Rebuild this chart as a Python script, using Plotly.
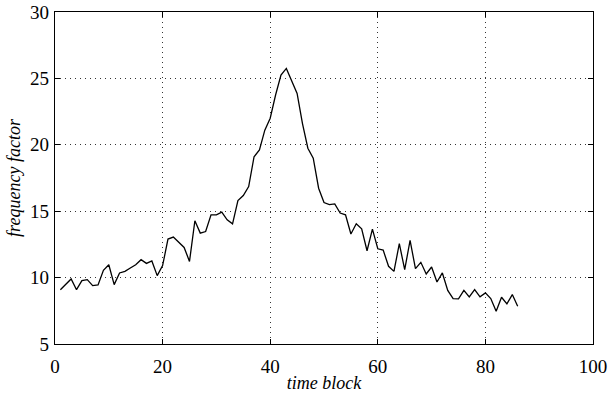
import plotly.graph_objects as go

time_block = list(range(1, 87))
freq_factor = [
    9.09, 9.5, 9.9, 9.09, 9.77, 9.85, 9.4, 9.45, 10.55, 10.97,
    9.47, 10.35, 10.47, 10.72, 10.97, 11.35, 11.07, 11.25, 10.15, 10.9,
    12.9, 13.05, 12.65, 12.27, 11.22, 14.28, 13.35, 13.47, 14.73, 14.73,
    14.93, 14.35, 14.05, 15.8, 16.18, 16.86, 19.1, 19.61, 21.1, 22.0,
    23.75, 25.25, 25.75, 24.87, 23.87, 21.6, 19.74, 18.99, 16.73, 15.65,
    15.5, 15.55, 14.86, 14.73, 13.28, 14.05, 13.68, 12.02, 13.65, 12.17,
    12.07, 10.85, 10.47, 12.55, 10.6, 12.8, 10.67, 11.15, 10.27, 10.8,
    9.67, 10.35, 9.04, 8.42, 8.4, 9.04, 8.55, 9.1, 8.55, 8.85,
    8.42, 7.46, 8.52, 8.02, 8.72, 7.84,
]
x_ticks = [0, 20, 40, 60, 80, 100]
y_ticks = [5, 10, 15, 20, 25, 30]

font_family = "Liberation Serif"

fig = go.Figure()
fig.add_trace(go.Scatter(
    x=time_block, y=freq_factor, mode="lines",
    line=dict(color="black", width=1.3),
    showlegend=False,
))

axis_common = dict(
    showline=True, linecolor="black", linewidth=1.3, mirror="ticks",
    ticks="inside", ticklen=5, tickcolor="black", tickwidth=1,
    showgrid=True, gridcolor="#333333", gridwidth=1, griddash="1px,4px",
    zeroline=False, automargin=False,
    tickfont=dict(family=font_family, size=19, color="black"),
)

fig.update_layout(
    width=610, height=396,
    margin=dict(l=55, r=17, t=12, b=52),
    paper_bgcolor="white", plot_bgcolor="white",
    font=dict(family=font_family, size=19, color="black"),
    xaxis=dict(
        range=[0, 100], tickvals=x_ticks, ticklabelstandoff=5,
        title=dict(text="<i>time block</i>", standoff=0,
                   font=dict(family=font_family, size=18, color="black")),
        **axis_common,
    ),
    yaxis=dict(
        range=[5, 30], tickvals=y_ticks, ticklabelstandoff=1,
        title=dict(text="<i>frequency factor</i>", standoff=4,
                   font=dict(family=font_family, size=18, color="black")),
        **axis_common,
    ),
)

fig.write_html("out.html")
